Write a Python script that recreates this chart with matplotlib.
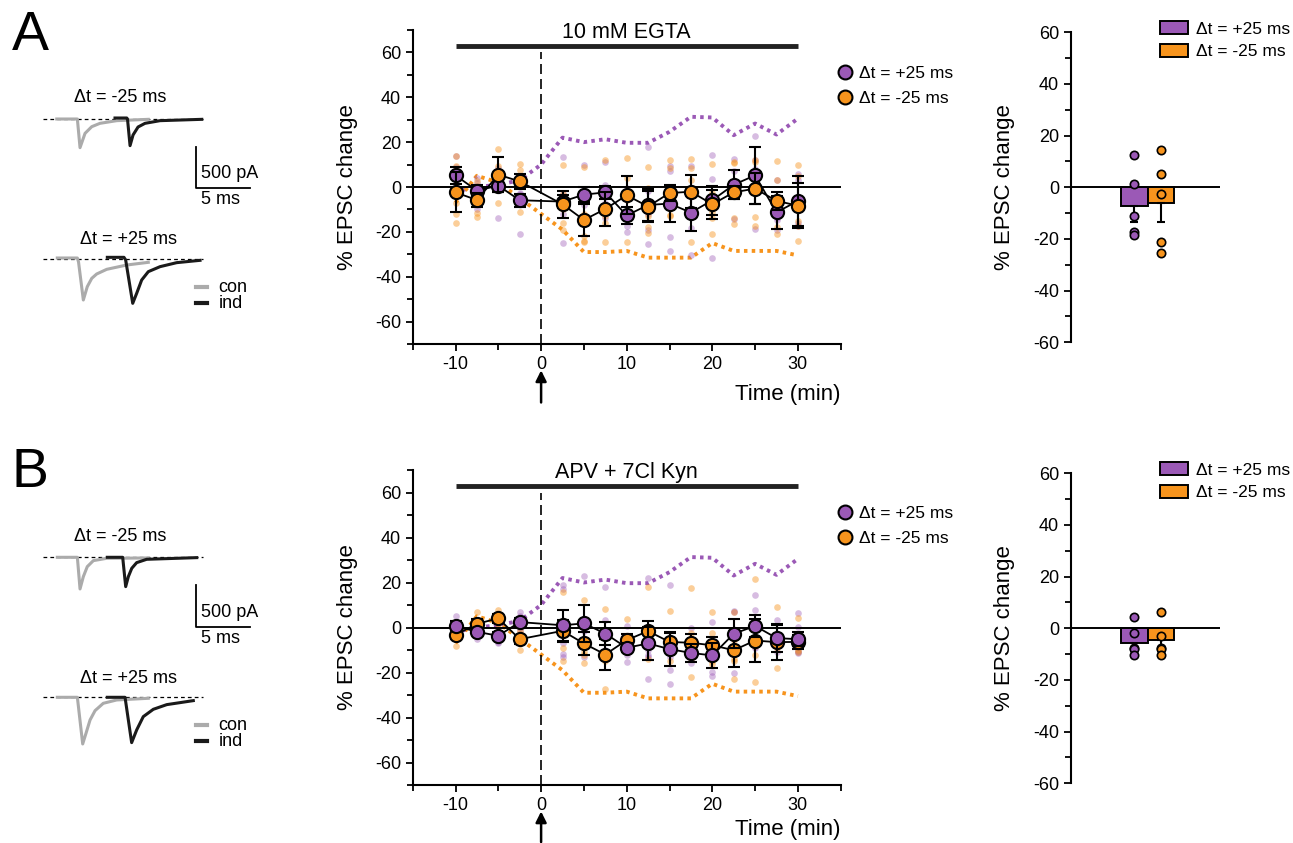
import numpy as np
import matplotlib.pyplot as plt
from matplotlib.lines import Line2D
from matplotlib.patches import Patch
from matplotlib.ticker import MultipleLocator, FixedLocator

plt.rcParams['font.family'] = ['Liberation Sans', 'DejaVu Sans']
plt.rcParams['axes.unicode_minus'] = False

PURPLE = '#9b59b6'
ORANGE = '#f7941d'
GRAY = '#ababab'
DARK = '#1a1a1a'

# ---- time course data (% EPSC change) ----
times = [-10, -7.5, -5, -2.5, 2.5, 5, 7.5, 10, 12.5, 15, 17.5, 20, 22.5, 25, 27.5, 30]

a_plus_mean = [5.2, -1.6, 0.6, -5.9, -6.5, -3.4, -2.4, -12.7, -8.0, -7.4, -11.4, -5.9, 1.0, 5.2, -11.3, -6.2]
a_plus_sem = [3.7, 2.5, 3.0, 3.0, 3.0, 3.5, 3.0, 3.7, 7.0, 8.0, 8.1, 6.5, 6.5, 12.6, 7.5, 11.0]
a_minus_mean = [-2.4, -5.8, 5.5, 2.5, -7.7, -14.7, -9.8, -3.7, -8.7, -2.7, -2.1, -7.7, -2.4, -0.7, -6.2, -8.3]
a_minus_sem = [8.9, 3.0, 7.7, 3.5, 6.0, 7.1, 7.4, 8.5, 7.0, 3.5, 7.3, 6.5, 3.0, 7.0, 4.0, 10.0]

b_plus_mean = [0.7, -1.9, -3.7, 2.4, 1.0, 1.8, -2.7, -9.0, -7.1, -9.6, -11.3, -12.4, -2.8, 0.7, -4.7, -5.2]
b_plus_sem = [2.0, 1.5, 1.5, 2.0, 7.0, 8.3, 5.0, 2.0, 7.5, 7.5, 4.0, 5.6, 6.5, 5.0, 6.0, 3.0]
b_minus_mean = [-3.3, 1.6, 4.1, -5.2, -1.5, -7.1, -12.0, -5.6, -1.6, -6.4, -6.8, -7.9, -10.1, -5.8, -6.5, -6.4]
b_minus_sem = [2.0, 2.0, 2.0, 2.0, 5.0, 5.0, 7.0, 2.5, 4.5, 4.0, 4.0, 3.5, 7.5, 9.5, 8.0, 3.0]

# individual cells (faint dots), one list per time point
a_plus_cells = [
    [13.8, 9.0, 3.0, -1.0, 1.2], [2.0, -1.0, -4.0, -10.0, 4.0], [8.5, 3.0, -1.0, -14.0, 6.5],
    [4.0, -3.0, -7.0, -20.9, -2.5], [13.5, -3.0, -6.0, -12.0, -24.9], [10.0, -1.0, -4.0, -8.0, -14.0],
    [11.0, 1.0, -3.0, -7.0, -14.0], [-0.5, -12.0, -17.6, -19.9, -13.0], [17.8, -2.0, -12.0, -19.0, -25.5],
    [9.5, 7.0, -1.0, -22.4, -28.7], [9.3, -4.0, -18.4, -13.5, -30.4], [14.4, 3.4, -8.0, -8.0, -31.6],
    [12.3, 7.0, 1.0, -0.5, -14.1], [22.7, 11.9, 8.0, 2.0, -18.8], [3.0, -12.0, -14.7, -14.0, -19.0],
    [5.6, 3.0, -6.0, -17.6, -16.0],
]
a_minus_cells = [
    [13.8, 9.5, -7.0, -16.1, -12.0], [2.5, -1.0, -11.8, -13.5, -5.0], [17.0, 9.5, 7.0, -7.3, 1.3],
    [10.2, 7.5, 3.0, -11.3, 3.1], [10.0, -3.0, -10.0, -16.0, -19.0], [8.9, -12.0, -22.0, -24.7, -24.0],
    [12.0, -8.0, -13.0, -24.4, -16.0], [13.0, 4.0, -6.0, -24.7, -5.0], [8.9, -0.6, -13.0, -20.6, -18.0],
    [12.0, 8.3, -12.4, -13.0, -8.0], [12.3, 3.0, -10.3, -24.3, 8.5], [10.2, -14.0, -21.0, -11.0, -2.5],
    [10.5, -3.0, -16.7, -13.9, 11.0], [12.0, 11.0, -13.5, -17.3, 4.0], [11.4, 3.3, -21.0, -18.0, -6.5],
    [10.0, 5.0, -24.1, -17.5, -15.0],
]
b_plus_cells = [
    [5.0, 2.0, -1.0, -3.5, 1.0], [1.0, -4.9, -3.0, 0.5, -3.1], [1.7, -2.0, -6.5, -5.0, -6.7],
    [7.0, 5.0, 1.5, -1.5, 0.0], [19.0, 17.3, -11.6, -13.0, -6.7], [23.0, 2.0, -1.5, -13.3, -1.2],
    [18.0, 3.3, -10.0, -12.0, -12.8], [0.6, -8.0, -15.3, -12.0, -10.3], [22.2, -12.0, -13.0, -22.8, -10.0],
    [19.0, -25.2, -19.0, -13.0, -9.8], [0.0, -15.8, -14.0, -13.0, -13.7], [2.5, -21.6, -19.6, -12.0, -11.3],
    [7.3, 7.0, -20.0, -5.0, -3.3], [14.4, 8.0, -8.5, -9.0, -1.4], [3.3, -10.8, -8.0, -5.0, -3.0],
    [6.5, 0.3, -11.3, -10.5, -11.0],
]
b_minus_cells = [
    [-8.3, -1.0, 0.5, -4.7, -3.0], [7.0, 3.3, -0.5, -2.0, 0.2], [8.0, 6.2, 3.0, 1.5, 1.8],
    [-1.5, -10.0, -5.5, -6.0, -3.0], [15.9, -9.3, -15.0, -0.7, 1.6], [12.1, -15.6, -12.4, -11.0, -8.6],
    [8.4, -27.3, -15.1, -13.0, -13.0], [4.0, -10.8, -5.5, -8.0, -7.7], [18.0, -13.9, -4.0, -3.1, -5.0],
    [7.4, -15.1, -10.0, -8.0, -6.3], [17.6, -22.2, -2.6, -14.0, -12.8], [7.0, -2.6, -16.0, -13.0, -14.9],
    [7.0, -22.7, -5.7, -15.0, -14.1], [21.5, -24.4, -8.0, -6.0, -12.1], [9.0, -18.2, -9.0, -7.0, -7.3],
    [4.4, -10.8, -10.0, -8.0, -7.6],
]

# reference envelopes (dotted)
ref_times = [-10, -7.5, -5, -2.5, 0, 2.5, 5, 7.5, 10, 12.5, 15, 17.5, 20, 22.5, 25, 27.5, 30]
ref_plus = [-2, 0, 1, 3, 10, 22, 20, 21.3, 19.7, 19.7, 24.6, 31.3, 31, 23.1, 28.3, 23.4, 30.5]
ref_minus = [-7, 5, 2, -5, -12, -19, -29, -29, -28.5, -31.5, -31.5, -31.5, -25, -28.5, -28.5, -28.5, -30.5]

# ---- summary bars ----
a_bar_mean = [-7.2, -5.9]
a_bar_sem = [6.3, 7.5]
a_bar_plus_cells = [12.6, 1.4, -11.1, -17.4, -18.5]
a_bar_minus_cells = [14.6, 5.0, -2.5, -21.2, -25.4]
b_bar_mean = [-5.8, -4.5]
b_bar_sem = [2.5, 3.6]
b_bar_plus_cells = [4.5, -1.8, -7.5, -8.1, -10.3]
b_bar_minus_cells = [6.5, -2.8, -7.5, -8.1, -10.3]

# ---- example traces (ms, pA relative to baseline) ----
a_m_con_t = [1.26, 3.19, 3.44, 3.91, 4.54, 5.31, 6.88, 9.84]
a_m_con_i = [0, 0, -344, -172, -92, -52, -20, -4]
a_m_ind_t = [6.72, 7.82, 7.89, 8.13, 8.41, 8.88, 9.53, 10.94, 14.85]
a_m_ind_i = [12, 12, 0, -320, -192, -96, -52, -20, -4]
a_p_con_t = [1.31, 3.19, 3.30, 3.75, 4.12, 4.54, 5.00, 5.94, 7.82, 9.84]
a_p_con_i = [12, 12, -36, -492, -332, -232, -180, -124, -72, -40]
a_p_ind_t = [6.00, 7.56, 7.72, 8.38, 8.75, 9.22, 9.84, 10.94, 12.50, 14.69]
a_p_ind_i = [20, 20, -12, -532, -412, -252, -152, -92, -44, -16]

b_m_con_t = [1.31, 3.19, 3.44, 3.75, 4.12, 4.69, 5.94, 9.84]
b_m_con_i = [0, 0, -380, -232, -112, -40, -12, -8]
b_m_ind_t = [6.00, 7.44, 7.72, 7.97, 8.29, 8.75, 9.69, 14.38]
b_m_ind_i = [0, 0, -352, -232, -132, -64, -24, -4]
b_p_con_t = [1.31, 3.19, 3.69, 4.00, 4.38, 4.85, 5.62, 6.88, 9.84]
b_p_con_i = [0, 0, -560, -432, -272, -160, -72, -32, -12]
b_p_ind_t = [6.00, 7.66, 8.28, 8.75, 9.37, 10.31, 11.57, 14.06]
b_p_ind_i = [0, 0, -544, -392, -232, -144, -88, -40]

W, H = 1293, 843


def px_axes(fig, left, top, right, bottom):
    return fig.add_axes([left / W, 1 - bottom / H, (right - left) / W, (bottom - top) / H])


def draw_traces(ax, m_con, m_ind, p_con, p_ind):
    offset = -1680
    ax.set_xlim(-1.25, 21.25)
    ax.set_ylim(-2412, 468)
    ax.axis('off')
    for base in (0, offset):
        ax.plot([0, 14.97], [base, base], color='k', lw=0.9, dashes=(3, 2.5))
    ax.plot(m_con[0], m_con[1], color=GRAY, lw=2.2)
    ax.plot(m_ind[0], m_ind[1], color=DARK, lw=2.2)
    ax.plot(p_con[0], np.array(p_con[1]) + offset, color=GRAY, lw=2.2)
    ax.plot(p_ind[0], np.array(p_ind[1]) + offset, color=DARK, lw=2.2)
    ax.text(7.2, 252, 'Δt = -25 ms', ha='center', va='center', fontsize=13)
    ax.text(7.94, -1452, 'Δt = +25 ms', ha='center', va='center', fontsize=13)
    # scale bar
    ax.plot([14.33, 14.33, 19.33], [-332, -832, -832], color='k', lw=1.3)
    ax.text(14.8, -660, '500 pA', ha='left', va='center', fontsize=13)
    ax.text(14.8, -972, '5 ms', ha='left', va='center', fontsize=13)
    ax.plot([14.33, 15.36], [-2016, -2016], color=GRAY, lw=3)
    ax.plot([14.33, 15.36], [-2208, -2208], color=DARK, lw=3)
    ax.text(16.4, -2016, 'con', ha='left', va='center', fontsize=13)
    ax.text(16.4, -2208, 'ind', ha='left', va='center', fontsize=13)


def draw_timecourse(ax, plus_mean, plus_sem, minus_mean, minus_sem, plus_cells, minus_cells,
                    title, arrow_tail, xlabel_y, orange_top):
    ax.set_xlim(-15, 35)
    ax.set_ylim(-70, 70)
    ax.plot(ref_times, ref_plus, color=PURPLE, lw=2.8, dashes=(0.9, 1.1), zorder=1)
    ax.plot(ref_times, ref_minus, color=ORANGE, lw=2.8, dashes=(0.9, 1.1), zorder=1)
    for t, pc, mc in zip(times, plus_cells, minus_cells):
        ax.plot([t] * len(pc), pc, 'o', ms=4.8, color=PURPLE, alpha=0.4, mew=0, zorder=2)
        ax.plot([t] * len(mc), mc, 'o', ms=4.8, color=ORANGE, alpha=0.45, mew=0, zorder=2)
    ax.axhline(0, color='k', lw=1.4, zorder=2.5)
    ax.plot([0, 0], [-70, 60], color='k', lw=1.2, dashes=(6, 3), zorder=2.5)

    series = [(plus_mean, plus_sem, PURPLE), (minus_mean, minus_sem, ORANGE)]
    if not orange_top:
        series = series[::-1]
    z = 3
    for mean, sem, col in series:
        ax.errorbar(times, mean, yerr=sem, fmt='none', ecolor='k', elinewidth=1.5,
                    capsize=4, capthick=1.5, zorder=z)
        ax.plot(times, mean, '-', color='k', lw=1.3, zorder=z + 0.1)
        ax.plot(times, mean, 'o', ms=9.5, mfc=col, mec='k', mew=1.5, zorder=z + 0.2)
        z += 1

    # drug bar + title
    ax.plot([-10, 30], [63, 63], color='#222222', lw=3.5, clip_on=False, solid_capstyle='butt')
    ax.text(10, 66.5, title, ha='center', va='baseline', fontsize=15.5)

    for s in ('top', 'right'):
        ax.spines[s].set_visible(False)
    for s in ('left', 'bottom'):
        ax.spines[s].set_linewidth(1.5)
    ax.xaxis.set_major_locator(FixedLocator([-10, 0, 10, 20, 30]))
    ax.xaxis.set_minor_locator(MultipleLocator(5))
    ax.yaxis.set_major_locator(FixedLocator([-60, -40, -20, 0, 20, 40, 60]))
    ax.yaxis.set_minor_locator(MultipleLocator(10))
    ax.tick_params(which='both', direction='out', width=1.3, labelsize=13)
    ax.tick_params(which='major', length=5)
    ax.tick_params(which='minor', length=4)
    ax.set_ylabel('% EPSC change', fontsize=16)
    ax.yaxis.set_label_coords(-0.128, 0.5)
    ax.text(1.0, xlabel_y, 'Time (min)', transform=ax.transAxes, ha='right', va='baseline', fontsize=16)

    ax.annotate('', xy=(0, -0.075), xytext=(0, arrow_tail),
                xycoords=('data', 'axes fraction'), textcoords=('data', 'axes fraction'),
                arrowprops=dict(arrowstyle='-|>', color='k', lw=1.8, mutation_scale=16))

    handles = [
        Line2D([], [], marker='o', ls='', ms=10, mfc=PURPLE, mec='k', mew=1.5, label='Δt = +25 ms'),
        Line2D([], [], marker='o', ls='', ms=10, mfc=ORANGE, mec='k', mew=1.5, label='Δt = -25 ms'),
    ]
    ax.legend(handles=handles, loc='upper left', bbox_to_anchor=(0.985, 0.885), frameon=False,
              fontsize=12.5, handletextpad=0.2, labelspacing=0.55, handlelength=1.2,
              borderpad=0, borderaxespad=0)


def draw_bars(ax, mean, sem, plus_cells, minus_cells):
    ax.set_xlim(-2.41, 3.25)
    ax.set_ylim(-60, 60)
    cols = [PURPLE, ORANGE]
    for i in range(2):
        ax.bar(i, mean[i], width=1.0, color=cols[i], edgecolor='k', lw=1.4, zorder=2)
        ax.errorbar(i, mean[i], yerr=[[sem[i]], [0]], fmt='none', ecolor='k', elinewidth=1.5,
                    capsize=3, capthick=1.5, zorder=3)
    ax.plot([0] * len(plus_cells), plus_cells, 'o', ms=6, mfc=PURPLE, mec='k', mew=1.2, zorder=4)
    ax.plot([1] * len(minus_cells), minus_cells, 'o', ms=6, mfc=ORANGE, mec='k', mew=1.2, zorder=4)
    ax.axhline(0, color='k', lw=1.4, zorder=2.5)
    for s in ('top', 'right', 'bottom'):
        ax.spines[s].set_visible(False)
    ax.spines['left'].set_linewidth(1.5)
    ax.set_xticks([])
    ax.yaxis.set_major_locator(FixedLocator([-60, -40, -20, 0, 20, 40, 60]))
    ax.yaxis.set_minor_locator(MultipleLocator(10))
    ax.tick_params(which='both', direction='out', width=1.3, labelsize=13)
    ax.tick_params(which='major', length=5)
    ax.tick_params(which='minor', length=4)
    ax.set_ylabel('% EPSC change', fontsize=16)
    ax.yaxis.set_label_coords(-0.376, 0.5)
    handles = [
        Patch(facecolor=PURPLE, edgecolor='k', lw=1.4, label='Δt = +25 ms'),
        Patch(facecolor=ORANGE, edgecolor='k', lw=1.4, label='Δt = -25 ms'),
    ]
    ax.legend(handles=handles, loc='upper left', bbox_to_anchor=(0.6, 1.035), frameon=False,
              fontsize=12.5, handlelength=1.6, handleheight=0.75, handletextpad=0.45,
              labelspacing=0.4, borderpad=0, borderaxespad=0)


fig = plt.figure(figsize=(W / 100, H / 100), dpi=100)

# panel A
ax_tr_a = px_axes(fig, 30, 80, 270, 320)
draw_traces(ax_tr_a, (a_m_con_t, a_m_con_i), (a_m_ind_t, a_m_ind_i),
            (a_p_con_t, a_p_con_i), (a_p_ind_t, a_p_ind_i))
ax_tc_a = px_axes(fig, 412.7, 30, 840.7, 344)
draw_timecourse(ax_tc_a, a_plus_mean, a_plus_sem, a_minus_mean, a_minus_sem,
                a_plus_cells, a_minus_cells, '10 mM EGTA', -0.195, -0.178, True)
ax_bar_a = px_axes(fig, 1071, 32.3, 1220, 342.3)
draw_bars(ax_bar_a, a_bar_mean, a_bar_sem, a_bar_plus_cells, a_bar_minus_cells)

# panel B
ax_tr_b = px_axes(fig, 30, 518.3, 270, 758.3)
draw_traces(ax_tr_b, (b_m_con_t, b_m_con_i), (b_m_ind_t, b_m_ind_i),
            (b_p_con_t, b_p_con_i), (b_p_ind_t, b_p_ind_i))
ax_tc_b = px_axes(fig, 412.7, 470, 840.7, 785)
draw_timecourse(ax_tc_b, b_plus_mean, b_plus_sem, b_minus_mean, b_minus_sem,
                b_plus_cells, b_minus_cells, 'APV + 7Cl Kyn', -0.19, -0.16, False)
ax_bar_b = px_axes(fig, 1071, 473.3, 1220, 783.3)
draw_bars(ax_bar_b, b_bar_mean, b_bar_sem, b_bar_plus_cells, b_bar_minus_cells)

fig.text(30 / W, 1 - 36 / H, 'A', fontsize=40, ha='center', va='center')
fig.text(30 / W, 1 - 473 / H, 'B', fontsize=40, ha='center', va='center')

fig.savefig('out.png', dpi=100)
